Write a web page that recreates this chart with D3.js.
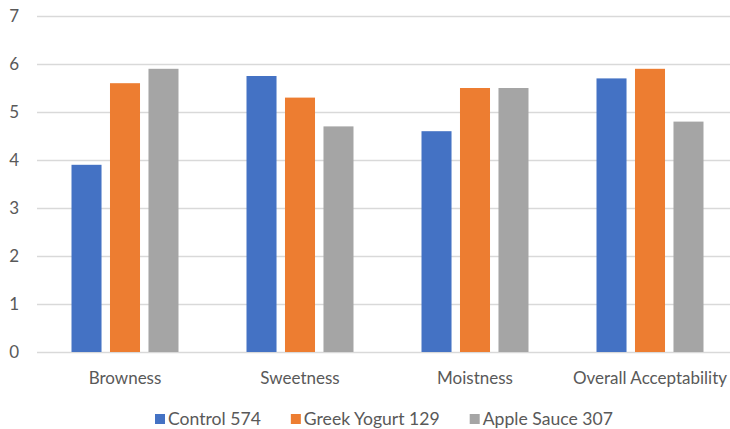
<!DOCTYPE html>
<html><head><meta charset="utf-8">
<script src="https://cdn.jsdelivr.net/npm/d3@7"></script>
<style>body{margin:0;background:#fff;} svg{display:block;}</style>
</head><body>
<script>
const categories = ["Browness", "Sweetness", "Moistness", "Overall Acceptability"];
const seriesNames = ["Control 574", "Greek Yogurt 129", "Apple Sauce 307"];
const control574 = [3.9, 5.75, 4.6, 5.7];
const greekYogurt129 = [5.6, 5.3, 5.5, 5.9];
const appleSauce307 = [5.9, 4.7, 5.5, 4.8];
const yTicks = [0, 1, 2, 3, 4, 5, 6, 7];
const colors = ["#4472C4", "#ED7D31", "#A5A5A5"];

const seriesValues = [control574, greekYogurt129, appleSauce307];
const W = 730, H = 429;
const FONT = "Lato, 'Open Sans', sans-serif";
const svg = d3.select("body").append("svg").attr("width", W).attr("height", H);

const x0 = d3.scaleBand().domain(categories).range([37.5, 737.5]).padding(0);
const x1 = d3.scaleBand().domain(seriesNames).range([34, 141]).paddingInner(0.22).paddingOuter(0);
const y = d3.scaleLinear().domain([0, 7]).range([352, 16]);

// gridlines
svg.append("g").selectAll("line").data(yTicks).join("line")
  .attr("x1", 37).attr("x2", W)
  .attr("y1", d => Math.round(y(d)) + 0.5).attr("y2", d => Math.round(y(d)) + 0.5)
  .attr("stroke", "#d9d9d9").attr("stroke-width", 1.3);

// y tick labels
svg.append("g").selectAll("text").data(yTicks).join("text")
  .attr("x", 19).attr("y", d => y(d)).attr("dy", "0.35em")
  .attr("text-anchor", "end").attr("font-family", FONT).attr("font-size", 17)
  .attr("fill", "#595959").text(d => d);

// bars
const groups = svg.append("g").selectAll("g").data(categories).join("g")
  .attr("transform", c => `translate(${x0(c)},0)`);
groups.selectAll("rect").data((c, i) => seriesNames.map((s, j) => ({s, j, v: seriesValues[j][i]})))
  .join("rect")
  .attr("x", d => x1(d.s)).attr("width", x1.bandwidth())
  .attr("y", d => y(d.v)).attr("height", d => y(0) - y(d.v))
  .attr("fill", d => colors[d.j]);

// category labels
svg.append("g").selectAll("text").data(categories).join("text")
  .attr("x", c => x0(c) + x0.bandwidth() / 2).attr("y", 384)
  .attr("text-anchor", "middle").attr("font-family", FONT).attr("font-size", 17)
  .attr("fill", "#595959").text(c => c);

// legend
const legend = svg.append("g");
let lx = 155;
seriesNames.forEach((s, j) => {
  legend.append("rect").attr("x", lx).attr("y", 414).attr("width", 10).attr("height", 10).attr("fill", colors[j]);
  const t = legend.append("text").attr("x", lx + 13).attr("y", 419).attr("dy", "0.35em")
    .attr("font-family", FONT).attr("font-size", 17.6).attr("fill", "#595959").text(s);
  lx += 13 + t.node().getComputedTextLength() + 30;
});
</script>
</body></html>
